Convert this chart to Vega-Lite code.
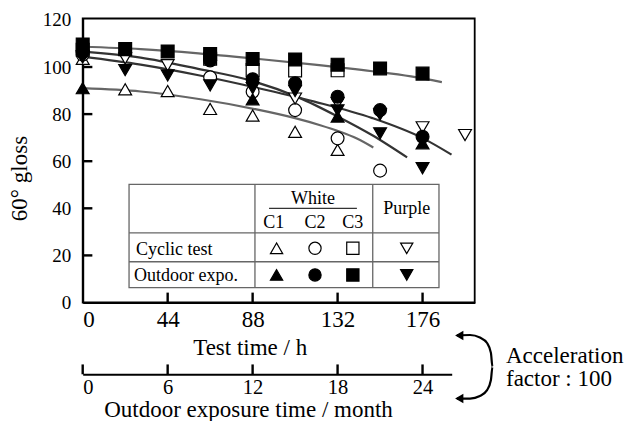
{
  "$schema": "https://vega.github.io/schema/vega-lite/v6.json",
  "width": 392,
  "height": 284,
  "autosize": {"type": "none"},
  "padding": {"left": 82.7, "top": 18.5, "right": 155.3, "bottom": 118.5},
  "background": "white",
  "config": {
    "font": "Liberation Serif",
    "view": {"stroke": "black", "strokeWidth": 1.8},
    "axis": {"grid": false, "domainColor": "black", "labelColor": "black", "titleColor": "black", "labelFont": "Liberation Serif", "titleFont": "Liberation Serif", "titleFontWeight": "normal", "domainWidth": 2, "ticks": false}
  },
  "datasets": {
    "pts": [
      {"t": 0, "gloss": 103.5, "series": "C1", "test": "Cyclic test"},
      {"t": 22, "gloss": 90.5, "series": "C1", "test": "Cyclic test"},
      {"t": 44, "gloss": 89.8, "series": "C1", "test": "Cyclic test"},
      {"t": 66, "gloss": 82.2, "series": "C1", "test": "Cyclic test"},
      {"t": 88, "gloss": 79.4, "series": "C1", "test": "Cyclic test"},
      {"t": 110, "gloss": 72.5, "series": "C1", "test": "Cyclic test"},
      {"t": 132, "gloss": 64.8, "series": "C1", "test": "Cyclic test"},
      {"t": 0, "gloss": 91.0, "series": "C1", "test": "Outdoor expo."},
      {"t": 88, "gloss": 86.3, "series": "C1", "test": "Outdoor expo."},
      {"t": 132, "gloss": 79.0, "series": "C1", "test": "Outdoor expo."},
      {"t": 176, "gloss": 67.6, "series": "C1", "test": "Outdoor expo."},
      {"t": 0, "gloss": 105.3, "series": "C2", "test": "Cyclic test"},
      {"t": 66, "gloss": 95.6, "series": "C2", "test": "Cyclic test"},
      {"t": 88, "gloss": 89.5, "series": "C2", "test": "Cyclic test"},
      {"t": 110, "gloss": 81.7, "series": "C2", "test": "Cyclic test"},
      {"t": 132, "gloss": 69.7, "series": "C2", "test": "Cyclic test"},
      {"t": 154, "gloss": 56.0, "series": "C2", "test": "Cyclic test"},
      {"t": 0, "gloss": 106.2, "series": "C2", "test": "Outdoor expo."},
      {"t": 66, "gloss": 102.8, "series": "C2", "test": "Outdoor expo."},
      {"t": 88, "gloss": 94.8, "series": "C2", "test": "Outdoor expo."},
      {"t": 110, "gloss": 93.1, "series": "C2", "test": "Outdoor expo."},
      {"t": 132, "gloss": 87.4, "series": "C2", "test": "Outdoor expo."},
      {"t": 154, "gloss": 81.7, "series": "C2", "test": "Outdoor expo."},
      {"t": 176, "gloss": 70.4, "series": "C2", "test": "Outdoor expo."},
      {"t": 0, "gloss": 107.3, "series": "C3", "test": "Cyclic test"},
      {"t": 66, "gloss": 103.5, "series": "C3", "test": "Cyclic test"},
      {"t": 88, "gloss": 98.7, "series": "C3", "test": "Cyclic test"},
      {"t": 110, "gloss": 98.5, "series": "C3", "test": "Cyclic test"},
      {"t": 132, "gloss": 98.6, "series": "C3", "test": "Cyclic test"},
      {"t": 0, "gloss": 109.6, "series": "C3", "test": "Outdoor expo."},
      {"t": 22, "gloss": 107.6, "series": "C3", "test": "Outdoor expo."},
      {"t": 44, "gloss": 106.6, "series": "C3", "test": "Outdoor expo."},
      {"t": 66, "gloss": 105.5, "series": "C3", "test": "Outdoor expo."},
      {"t": 88, "gloss": 103.4, "series": "C3", "test": "Outdoor expo."},
      {"t": 110, "gloss": 103.2, "series": "C3", "test": "Outdoor expo."},
      {"t": 132, "gloss": 101.0, "series": "C3", "test": "Outdoor expo."},
      {"t": 154, "gloss": 99.4, "series": "C3", "test": "Outdoor expo."},
      {"t": 176, "gloss": 97.2, "series": "C3", "test": "Outdoor expo."},
      {"t": 0, "gloss": 104.0, "series": "Purple", "test": "Cyclic test"},
      {"t": 22, "gloss": 103.7, "series": "Purple", "test": "Cyclic test"},
      {"t": 44, "gloss": 100.8, "series": "Purple", "test": "Cyclic test"},
      {"t": 110, "gloss": 86.6, "series": "Purple", "test": "Cyclic test"},
      {"t": 132, "gloss": 84.6, "series": "Purple", "test": "Cyclic test"},
      {"t": 176, "gloss": 74.4, "series": "Purple", "test": "Cyclic test"},
      {"t": 198, "gloss": 71.1, "series": "Purple", "test": "Cyclic test"},
      {"t": 0, "gloss": 104.6, "series": "Purple", "test": "Outdoor expo."},
      {"t": 22, "gloss": 98.7, "series": "Purple", "test": "Outdoor expo."},
      {"t": 44, "gloss": 96.4, "series": "Purple", "test": "Outdoor expo."},
      {"t": 66, "gloss": 92.2, "series": "Purple", "test": "Outdoor expo."},
      {"t": 88, "gloss": 91.0, "series": "Purple", "test": "Outdoor expo."},
      {"t": 110, "gloss": 89.8, "series": "Purple", "test": "Outdoor expo."},
      {"t": 132, "gloss": 81.6, "series": "Purple", "test": "Outdoor expo."},
      {"t": 154, "gloss": 79.8, "series": "Purple", "test": "Outdoor expo."},
      {"t": 154, "gloss": 71.8, "series": "Purple", "test": "Outdoor expo."},
      {"t": 176, "gloss": 57.0, "series": "Purple", "test": "Outdoor expo."}
    ],
    "fits": [
      {"t": 0, "gloss": 91.0, "series": "C1"},
      {"t": 30, "gloss": 89.6, "series": "C1"},
      {"t": 61, "gloss": 86.3, "series": "C1"},
      {"t": 90, "gloss": 82.0, "series": "C1"},
      {"t": 110, "gloss": 78.3, "series": "C1"},
      {"t": 123, "gloss": 75.3, "series": "C1"},
      {"t": 133, "gloss": 72.6, "series": "C1"},
      {"t": 142, "gloss": 69.6, "series": "C1"},
      {"t": 150.5, "gloss": 65.8, "series": "C1"},
      {"t": 0, "gloss": 106.5, "series": "C2"},
      {"t": 30, "gloss": 104.0, "series": "C2"},
      {"t": 61, "gloss": 99.0, "series": "C2"},
      {"t": 86, "gloss": 94.5, "series": "C2"},
      {"t": 112, "gloss": 87.0, "series": "C2"},
      {"t": 132, "gloss": 79.0, "series": "C2"},
      {"t": 150, "gloss": 71.0, "series": "C2"},
      {"t": 168, "gloss": 61.6, "series": "C2"},
      {"t": 0, "gloss": 108.6, "series": "C3"},
      {"t": 30, "gloss": 107.6, "series": "C3"},
      {"t": 60, "gloss": 105.8, "series": "C3"},
      {"t": 90, "gloss": 103.5, "series": "C3"},
      {"t": 120, "gloss": 101.0, "series": "C3"},
      {"t": 150, "gloss": 98.2, "series": "C3"},
      {"t": 170, "gloss": 96.0, "series": "C3"},
      {"t": 186, "gloss": 93.6, "series": "C3"},
      {"t": 0, "gloss": 104.4, "series": "Purple"},
      {"t": 30, "gloss": 101.0, "series": "Purple"},
      {"t": 60, "gloss": 96.5, "series": "Purple"},
      {"t": 90, "gloss": 91.2, "series": "Purple"},
      {"t": 120, "gloss": 85.3, "series": "Purple"},
      {"t": 150, "gloss": 78.3, "series": "Purple"},
      {"t": 176, "gloss": 69.8, "series": "Purple"},
      {"t": 191, "gloss": 62.8, "series": "Purple"}
    ],
    "xTicks": [{"t": 44}, {"t": 88}, {"t": 132}, {"t": 176}],
    "yTicks": [{"gloss": 20}, {"gloss": 40}, {"gloss": 60}, {"gloss": 80}, {"gloss": 100}],
    "monthTicks": [{"month": 0}, {"month": 6}, {"month": 12}, {"month": 18}, {"month": 24}],
    "tableBox": [{"x": 24.0, "x2": 184.5, "y": 6.3, "y2": 50.2}],
    "tableRules": [
      {"x": 89.2, "x2": 89.2, "y": 6.3, "y2": 50.2, "kind": "grid"},
      {"x": 150.2, "x2": 150.2, "y": 6.3, "y2": 50.2, "kind": "grid"},
      {"x": 24.0, "x2": 184.5, "y": 29.6, "y2": 29.6, "kind": "grid"},
      {"x": 24.0, "x2": 184.5, "y": 17.3, "y2": 17.3, "kind": "grid"},
      {"x": 96.5, "x2": 142.0, "y": 40.0, "y2": 40.0, "kind": "underline"}
    ],
    "tableText": [
      {"x": 119.3, "y": 41.8, "label": "White"},
      {"x": 98.9, "y": 31.5, "label": "C1"},
      {"x": 120.3, "y": 31.5, "label": "C2"},
      {"x": 139.8, "y": 31.5, "label": "C3"},
      {"x": 167.8, "y": 37.6, "label": "Purple"}
    ],
    "tableRowText": [
      {"x": 27.6, "y": 20.2, "label": "Cyclic test"},
      {"x": 26.6, "y": 9.3, "label": "Outdoor expo."}
    ],
    "tableSymbols": [
      {"x": 100.4, "y": 23.0, "series": "C1", "test": "Cyclic test"},
      {"x": 120.3, "y": 23.0, "series": "C2", "test": "Cyclic test"},
      {"x": 139.9, "y": 23.0, "series": "C3", "test": "Cyclic test"},
      {"x": 167.8, "y": 23.0, "series": "Purple", "test": "Cyclic test"},
      {"x": 100.4, "y": 11.7, "series": "C1", "test": "Outdoor expo."},
      {"x": 120.3, "y": 11.7, "series": "C2", "test": "Outdoor expo."},
      {"x": 139.9, "y": 11.7, "series": "C3", "test": "Outdoor expo."},
      {"x": 167.8, "y": 11.7, "series": "Purple", "test": "Outdoor expo."}
    ],
    "arrow": [
      {"t": 193.8, "gloss": -14.0, "o": 0},
      {"t": 200.6, "gloss": -13.8, "o": 1},
      {"t": 205.7, "gloss": -14.9, "o": 2},
      {"t": 209.4, "gloss": -17.2, "o": 3},
      {"t": 211.4, "gloss": -21.4, "o": 4},
      {"t": 212.2, "gloss": -27.3, "o": 5},
      {"t": 211.4, "gloss": -32.9, "o": 6},
      {"t": 209.4, "gloss": -37.2, "o": 7},
      {"t": 205.7, "gloss": -39.7, "o": 8},
      {"t": 200.6, "gloss": -40.8, "o": 9},
      {"t": 193.8, "gloss": -40.8, "o": 10}
    ],
    "arrowHeads": [
      {"t": 195.0, "gloss": -14.0},
      {"t": 195.0, "gloss": -40.8}
    ],
    "note": [
      {"t": 219.2, "gloss": -25.5, "label": "Acceleration"},
      {"t": 219.2, "gloss": -35.5, "label": "factor : 100"}
    ],
    "months": [{"month": 0}, {"month": 26.06}]
  },
  "layer": [
    {
      "layer": [
        {
          "data": {"name": "tableBox"},
          "mark": {"type": "rect", "fill": "white", "stroke": "#666", "strokeWidth": 1.3},
          "encoding": {
            "x": {"field": "x", "type": "quantitative", "scale": {"domain": [0, 203], "nice": false, "zero": false}, "axis": {"values": [0, 44, 88, 132, 176], "labelFontSize": 23, "labelBaseline": "alphabetic", "labelPadding": 24.2, "title": "Test time / h", "titleFontSize": 23, "titleX": 167, "titleY": 51.5, "titleBaseline": "alphabetic"}},
            "x2": {"field": "x2"},
            "y": {"field": "y", "type": "quantitative", "scale": {"domain": [0, 120.6], "nice": false, "zero": false}, "axis": {"values": [0, 20, 40, 60, 80, 100, 120], "labelFontSize": 19, "labelPadding": 12, "title": "60° gloss", "titleFontSize": 23, "titleX": -55.7, "titleY": 159.5, "titleBaseline": "alphabetic", "titleAngle": -90}},
            "y2": {"field": "y2"}
          }
        },
        {
          "data": {"name": "xTicks"},
          "mark": {"type": "rule", "color": "black", "strokeWidth": 2.4},
          "encoding": {
            "x": {"field": "t", "type": "quantitative", "axis": null},
            "y": {"datum": 0, "type": "quantitative", "axis": null},
            "y2": {"datum": 4.2}
          }
        },
        {
          "data": {"name": "yTicks"},
          "mark": {"type": "rule", "color": "black", "strokeWidth": 2.4},
          "encoding": {
            "y": {"field": "gloss", "type": "quantitative", "axis": null},
            "x": {"datum": 0, "type": "quantitative", "axis": null},
            "x2": {"datum": 5}
          }
        },
        {
          "data": {"name": "tableRules"},
          "mark": {"type": "rule", "strokeWidth": 1.3},
          "encoding": {
            "x": {"field": "x", "type": "quantitative", "axis": null},
            "x2": {"field": "x2"},
            "y": {"field": "y", "type": "quantitative", "axis": null},
            "y2": {"field": "y2"},
            "color": {"field": "kind", "type": "nominal", "scale": {"domain": ["grid", "underline"], "range": ["#666", "#333"]}, "legend": null}
          }
        },
        {
          "data": {"name": "tableText"},
          "mark": {"type": "text", "fontSize": 18, "align": "center", "baseline": "alphabetic", "color": "black"},
          "encoding": {
            "x": {"field": "x", "type": "quantitative", "axis": null},
            "y": {"field": "y", "type": "quantitative", "axis": null},
            "text": {"field": "label"}
          }
        },
        {
          "data": {"name": "tableRowText"},
          "mark": {"type": "text", "fontSize": 18, "align": "left", "baseline": "alphabetic", "color": "black"},
          "encoding": {
            "x": {"field": "x", "type": "quantitative", "axis": null},
            "y": {"field": "y", "type": "quantitative", "axis": null},
            "text": {"field": "label"}
          }
        },
        {
          "data": {"name": "tableSymbols"},
          "mark": {"type": "point", "filled": true, "stroke": "black", "strokeWidth": 1.2, "size": 150, "opacity": 1},
          "encoding": {
            "x": {"field": "x", "type": "quantitative", "axis": null},
            "y": {"field": "y", "type": "quantitative", "axis": null},
            "shape": {"field": "series", "type": "nominal", "scale": {"domain": ["C1", "C2", "C3", "Purple"], "range": ["triangle-up", "circle", "square", "triangle-down"]}, "legend": null},
            "fill": {"field": "test", "type": "nominal", "scale": {"domain": ["Cyclic test", "Outdoor expo."], "range": ["white", "black"]}, "legend": null}
          }
        },
        {
          "data": {"name": "fits"},
          "mark": {"type": "line", "strokeWidth": 2.2, "interpolate": "monotone"},
          "encoding": {
            "x": {"field": "t", "type": "quantitative", "axis": null},
            "y": {"field": "gloss", "type": "quantitative", "axis": null},
            "detail": {"field": "series"},
            "color": {"field": "series", "type": "nominal", "scale": {"domain": ["C1", "C2", "C3", "Purple"], "range": ["#808080", "#808080", "#808080", "#000000"]}, "legend": null}
          }
        },
        {
          "data": {"name": "pts"},
          "transform": [{"filter": "datum.test === 'Cyclic test'"}],
          "mark": {"type": "point", "filled": true, "stroke": "black", "strokeWidth": 1.2, "size": 165, "opacity": 1},
          "encoding": {
            "x": {"field": "t", "type": "quantitative", "axis": null},
            "y": {"field": "gloss", "type": "quantitative", "axis": null},
            "shape": {"field": "series", "type": "nominal", "legend": null},
            "fill": {"field": "test", "type": "nominal", "legend": null}
          }
        },
        {
          "data": {"name": "pts"},
          "transform": [{"filter": "datum.test === 'Outdoor expo.'"}],
          "mark": {"type": "point", "filled": true, "stroke": "black", "strokeWidth": 1.2, "size": 165, "opacity": 1},
          "encoding": {
            "x": {"field": "t", "type": "quantitative", "axis": null},
            "y": {"field": "gloss", "type": "quantitative", "axis": null},
            "shape": {"field": "series", "type": "nominal", "legend": null},
            "fill": {"field": "test", "type": "nominal", "legend": null}
          }
        },
        {
          "data": {"name": "arrow"},
          "mark": {"type": "line", "color": "black", "strokeWidth": 2.2, "interpolate": "monotone"},
          "encoding": {
            "x": {"field": "t", "type": "quantitative", "axis": null},
            "y": {"field": "gloss", "type": "quantitative", "axis": null},
            "order": {"field": "o"}
          }
        },
        {
          "data": {"name": "arrowHeads"},
          "mark": {"type": "point", "shape": "triangle-left", "filled": true, "color": "black", "size": 90, "opacity": 1},
          "encoding": {
            "x": {"field": "t", "type": "quantitative", "axis": null},
            "y": {"field": "gloss", "type": "quantitative", "axis": null}
          }
        },
        {
          "data": {"name": "note"},
          "mark": {"type": "text", "fontSize": 23, "align": "left", "baseline": "alphabetic", "color": "black"},
          "encoding": {
            "x": {"field": "t", "type": "quantitative", "axis": null},
            "y": {"field": "gloss", "type": "quantitative", "axis": null},
            "text": {"field": "label"}
          }
        }
      ],
      "resolve": {"axis": {"x": "independent", "y": "independent"}}
    },
    {
      "layer": [
        {
          "data": {"name": "months"},
          "mark": {"type": "point", "opacity": 0},
          "encoding": {
            "x": {"field": "month", "type": "quantitative", "scale": {"domain": [0, 26.06], "range": [0, 369], "nice": false, "zero": false}, "axis": {"orient": "bottom", "offset": 71.8, "values": [0, 6, 12, 18, 24], "labelFontSize": 20.5, "labelBaseline": "alphabetic", "labelPadding": 19.5, "title": "Outdoor exposure time / month", "titleFontSize": 23, "titleX": 165.3, "titleY": 42.2, "titleBaseline": "alphabetic"}}
          }
        },
        {
          "data": {"name": "monthTicks"},
          "mark": {"type": "rule", "color": "black", "strokeWidth": 2.4},
          "encoding": {
            "x": {"field": "month", "type": "quantitative", "axis": null},
            "y": {"datum": -30.49, "type": "quantitative", "axis": null},
            "y2": {"datum": -26.3}
          }
        }
      ],
      "resolve": {"axis": {"x": "independent", "y": "independent"}}
    }
  ],
  "resolve": {"scale": {"x": "independent"}}
}
